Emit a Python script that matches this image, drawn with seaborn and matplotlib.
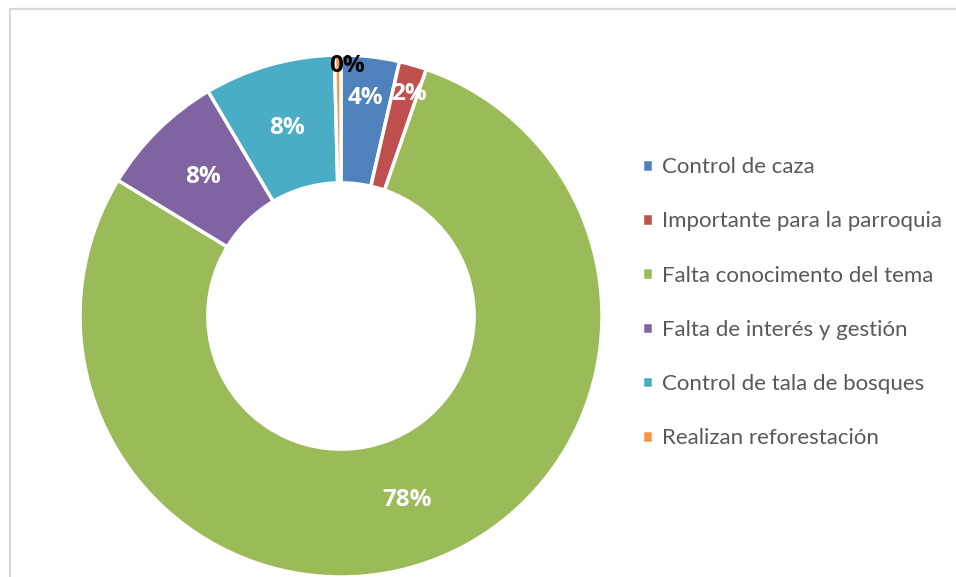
import numpy as np
import seaborn as sns
import matplotlib.pyplot as plt
from matplotlib.patches import Rectangle

# ----- data -----
categories = [
    "Control de caza",
    "Importante para la parroquia",
    "Falta conocimento del tema",
    "Falta de interés y gestión",
    "Control de tala de bosques",
    "Realizan reforestación",
]
shares = [3.6, 1.7, 78.4, 7.8, 8.1, 0.4]

colors = ["#4F81BD", "#C0504D", "#9BBB59", "#8064A2", "#4BACC6", "#F79646"]
label_radius = [0.84, 0.89, 0.75, 0.75, 0.75, 0.96]
label_nudge = [0, -1.0, 0, 0, 0, -2.0]  # degrees, clockwise offset like Excel's label placement
label_color = ["white", "white", "white", "white", "white", "black"]

sns.set_theme(style="white")
plt.rcParams["font.family"] = ["Lato", "DejaVu Sans"]

W, H = 956, 577
fig = plt.figure(figsize=(W / 100, H / 100), dpi=100)

# chart-area border (only top/left visible in the crop)
fig.patches.append(Rectangle((9.5 / W, -0.1), 1.2, (H - 8.5) / H + 0.1,
                             transform=fig.transFigure, fill=False,
                             edgecolor="#D9D9D9", linewidth=1.6))

cx, cy, r = 341, 316, 261
ax = fig.add_axes([(cx - r) / W, (H - cy - r) / H, 2 * r / W, 2 * r / H])

wedges, _ = ax.pie(shares, colors=colors, startangle=90, counterclock=False,
                   radius=1.0,
                   wedgeprops=dict(width=0.49, edgecolor="white", linewidth=2.5))
ax.set_xlim(-1, 1)
ax.set_ylim(-1, 1)
ax.set_aspect("equal")
ax.axis("off")

# percentage labels
for w, val, rr, dn, c in zip(wedges, shares, label_radius, label_nudge, label_color):
    ang = np.deg2rad((w.theta1 + w.theta2) / 2 + dn)
    ax.text(rr * np.cos(ang), rr * np.sin(ang), f"{round(val):d}%",
            ha="center", va="center", fontsize=17.5, fontweight="bold",
            family=["Open Sans", "DejaVu Sans"], color=c)

leg = fig.legend(wedges, categories, loc="upper left",
                 bbox_to_anchor=(631 / W, 1 - 146 / H),
                 frameon=False, fontsize=16, labelcolor="#595959",
                 handlelength=0.5, handleheight=0.5, handletextpad=0.4,
                 labelspacing=1.54, borderpad=0)

fig.savefig("out.png", dpi=100)
